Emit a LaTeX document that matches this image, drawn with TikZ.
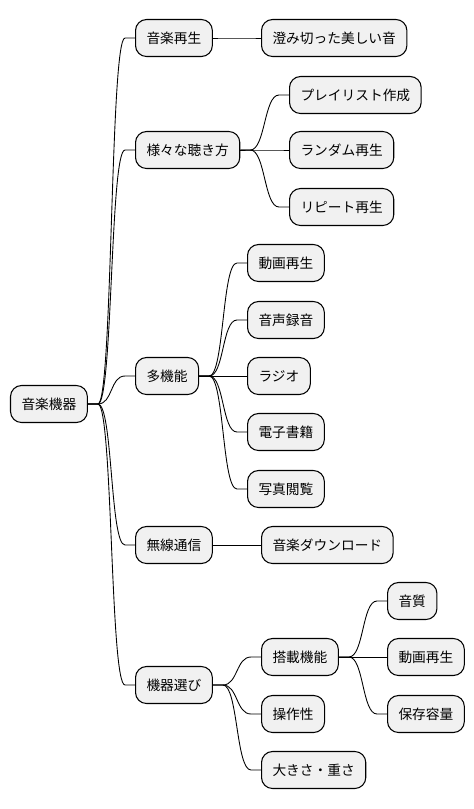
\documentclass[tikz,border=0pt]{standalone}
\usepackage{fontspec}
\setmainfont{Noto Sans CJK JP}
\usepackage{xcolor}
\usepackage{tikz}
\definecolor{boxfill}{HTML}{F1F1F1}

\begin{document}
\begin{tikzpicture}[
    topic/.style={rectangle, rounded corners=0.22cm, draw, line width=0.6pt, fill=boxfill,
        minimum height=0.74cm, inner xsep=0.22cm, anchor=west, font=\fontsize{7.8}{9}\selectfont},
    link/.style={line width=0.5pt}
]
    \useasboundingbox (0,0) rectangle (9.48,-16.18);

    % Root and first level
    \node[topic] (root) at (0.20,-8.08) {音楽機器};
    \node[topic] (play) at (2.70,-0.76) {音楽再生};
    \node[topic] (listen) at (2.70,-3.00) {様々な聴き方};
    \node[topic] (multi) at (2.70,-7.52) {多機能};
    \node[topic] (wireless) at (2.70,-10.90) {無線通信};
    \node[topic] (choose) at (2.70,-13.70) {機器選び};

    % Second level
    \node[topic] (clear) at (5.22,-0.76) {澄み切った美しい音};
    \node[topic] (playlist) at (5.78,-1.90) {プレイリスト作成};
    \node[topic] (random) at (5.78,-3.00) {ランダム再生};
    \node[topic] (repeat) at (5.78,-4.14) {リピート再生};
    \node[topic] (video) at (4.94,-5.26) {動画再生};
    \node[topic] (record) at (4.94,-6.40) {音声録音};
    \node[topic] (radio) at (4.94,-7.52) {ラジオ};
    \node[topic] (ebook) at (4.94,-8.64) {電子書籍};
    \node[topic] (photo) at (4.94,-9.78) {写真閲覧};
    \node[topic] (download) at (5.22,-10.90) {音楽ダウンロード};
    \node[topic] (features) at (5.22,-13.14) {搭載機能};
    \node[topic] (usability) at (5.22,-14.28) {操作性};
    \node[topic] (size) at (5.22,-15.40) {大きさ・重さ};

    % Third level
    \node[topic] (quality) at (7.74,-12.02) {音質};
    \node[topic] (video2) at (7.74,-13.14) {動画再生};
    \node[topic] (storage) at (7.74,-14.28) {保存容量};

    % Branches
    \foreach \p/\c in {root/play, root/listen, root/multi, root/wireless, root/choose,
        play/clear, listen/playlist, listen/random, listen/repeat,
        multi/video, multi/record, multi/radio, multi/ebook, multi/photo,
        wireless/download, choose/features, choose/usability, choose/size,
        features/quality, features/video2, features/storage}
        \draw[link] (\p.east) -- ++(0.2,0) .. controls +(0.3,0) and +(-0.3,0) .. ([xshift=-0.2cm]\c.west) -- (\c.west);
\end{tikzpicture}
\end{document}
